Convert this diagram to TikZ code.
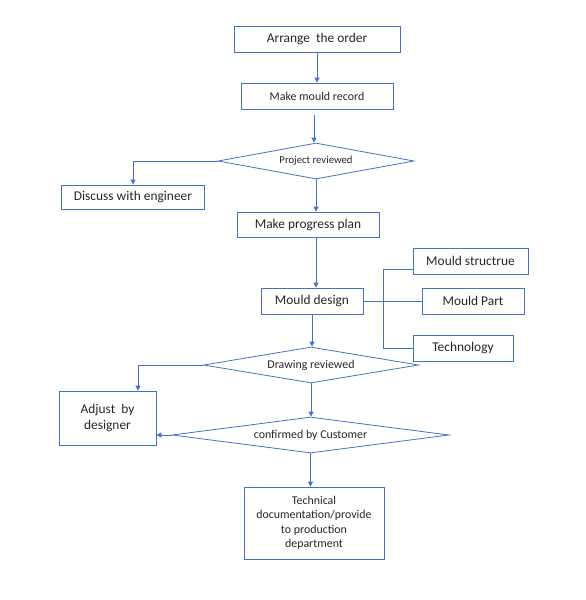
\documentclass[tikz,border=0pt]{standalone}
\usepackage{fontspec}
\setmainfont{Carlito}
\usetikzlibrary{shapes.geometric,arrows.meta,positioning}
\definecolor{flowblue}{RGB}{68,114,196}
\begin{document}
\begin{tikzpicture}[x=1pt,y=-1pt,
  box/.style={draw=flowblue,line width=0.8pt,inner sep=0pt,align=center,text=black!85},
  decision/.style={diamond,draw=flowblue,line width=0.8pt,inner sep=0pt,aspect=5,text=black!85},
  big/.style={font=\fontsize{13.4}{16}\selectfont},
  mid/.style={font=\fontsize{11.9}{14.5}\selectfont},
  small/.style={font=\fontsize{10.7}{13}\selectfont},
  arr/.style={draw=flowblue,line width=0.8pt,-{Triangle[length=5pt,width=5pt]}},
  link/.style={draw=flowblue,line width=0.8pt}]
\useasboundingbox (0,0) rectangle (586,600);
\node[box,big,minimum width=166,minimum height=26] (order) at (317,39) {Arrange~~the order};
\node[box,mid,minimum width=152,minimum height=26] (record) at (317,96) {Make mould record};
\node[decision,small,minimum width=196,minimum height=36] (project) at (316,161) {Project reviewed};
\node[box,big,minimum width=143,minimum height=24] (engineer) at (133,197) {Discuss with engineer};
\node[box,big,minimum width=142,minimum height=25] (plan) at (308,224.5) {Make progress plan};
\node[box,big,minimum width=102,minimum height=26] (design) at (312,301) {Mould design};
\node[box,big,minimum width=115,minimum height=26] (structure) at (470.5,261) {Mould structrue};
\node[box,big,minimum width=102,minimum height=26] (part) at (473,301) {Mould Part};
\node[box,big,minimum width=100,minimum height=26] (tech) at (463,348) {Technology};
\node[decision,mid,minimum width=215,minimum height=36] (drawing) at (311,365) {Drawing reviewed};
\node[box,big,minimum width=97,minimum height=54] (adjust) at (107.5,418) {Adjust~~by\\designer};
\node[decision,mid,minimum width=277,minimum height=36] (customer) at (310.5,435) {confirmed by Customer};
\node[box,mid,minimum width=140,minimum height=72] (docs) at (314,523) {Technical\\documentation/provide\\to production\\department};

\draw[arr] (order.south) -- (order.south |- record.north);
\draw[arr,shorten <=6pt] ([xshift=-3]record.south) -- ([xshift=-3]record.south |- project.north);
\draw[arr] (project.west) -| (engineer.north);
\draw[arr] (project.south) -- (project.south |- plan.north);
\draw[arr] (project.south |- plan.south) -- (project.south |- design.north);
\draw[link] (design.east) -- (part.west);
\draw[link] ([yshift=-8]structure.west) -- ++(-29,0) |- (tech.west);
\draw[arr] (design.south) -- (design.south |- drawing.north);
\draw[arr] (drawing.west) -| ([xshift=30.5]adjust.north);
\draw[arr] (drawing.south) -- (drawing.south |- customer.north);
\draw[arr] (customer.west) -- (customer.west -| adjust.east);
\draw[arr] (customer.south) -- (customer.south |- docs.north);
\end{tikzpicture}
\end{document}
